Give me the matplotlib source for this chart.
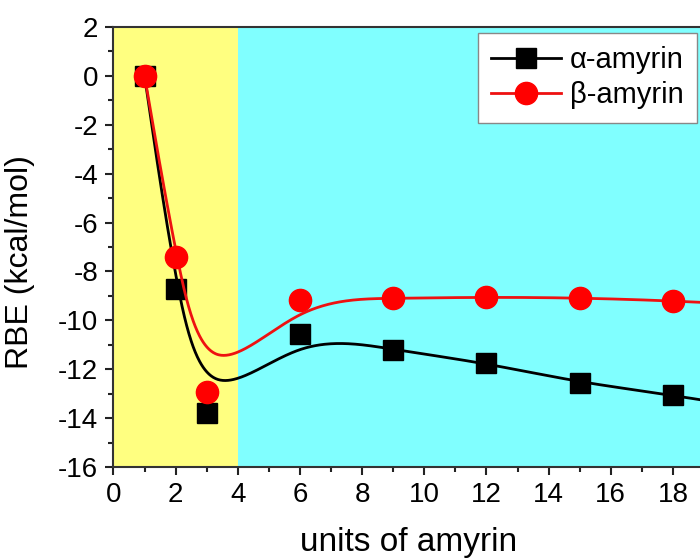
import numpy as np
import matplotlib.pyplot as plt
from matplotlib.lines import Line2D
from matplotlib.ticker import MultipleLocator

plt.rcParams['font.family'] = ['Liberation Sans', 'DejaVu Sans']
plt.rcParams['axes.unicode_minus'] = False

# data (last point lies outside the visible range,
# estimated from where the curves are heading at the right edge)
units = [1, 2, 3, 6, 9, 12, 15, 18, 21]
alpha_rbe = [0.0, -8.7, -13.8, -10.55, -11.2, -11.75, -12.55, -13.05, -13.7]
beta_rbe = [0.0, -7.4, -12.95, -9.15, -9.1, -9.05, -9.08, -9.2, -9.4]


def bspline(xs, ys, n=80):
    # uniform cubic B-spline using the points as control points,
    # end points repeated so the curve starts and ends on them
    px = np.r_[xs[0], xs[0], xs, xs[-1], xs[-1]].astype(float)
    py = np.r_[ys[0], ys[0], ys, ys[-1], ys[-1]].astype(float)
    t = np.linspace(0, 1, n)
    b0 = (1 - t) ** 3 / 6
    b1 = (3 * t**3 - 6 * t**2 + 4) / 6
    b2 = (-3 * t**3 + 3 * t**2 + 3 * t + 1) / 6
    b3 = t**3 / 6
    cx, cy = [], []
    for i in range(len(px) - 3):
        cx.append(b0 * px[i] + b1 * px[i + 1] + b2 * px[i + 2] + b3 * px[i + 3])
        cy.append(b0 * py[i] + b1 * py[i + 1] + b2 * py[i + 2] + b3 * py[i + 3])
    return np.concatenate(cx), np.concatenate(cy)


fig = plt.figure(figsize=(7, 5.6), dpi=100)
ax = fig.add_axes([0.1621, 0.1661, 0.8436, 0.7857])

ax.axvspan(0, 4, color='#ffff80', zorder=0, lw=0)
ax.axvspan(4, 22, color='#80ffff', zorder=0, lw=0)

ax_x, ax_y = bspline(units, alpha_rbe)
bx, by = bspline(units, beta_rbe)
ax.plot(ax_x, ax_y, color='black', lw=2, zorder=2)
ax.plot(units, alpha_rbe, 's', color='black', ms=14, zorder=3)
ax.plot(bx, by, color='#ee1111', lw=2, zorder=4)
ax.plot(units, beta_rbe, 'o', color='#ff0000', ms=16, zorder=5)

ax.set_xlim(0, 19)
ax.set_ylim(-16, 2)
ax.xaxis.set_major_locator(MultipleLocator(2))
ax.xaxis.set_minor_locator(MultipleLocator(1))
ax.yaxis.set_major_locator(MultipleLocator(2))
ax.yaxis.set_minor_locator(MultipleLocator(1))
ax.tick_params(which='both', direction='out', top=False, right=False,
               width=1.5, color='#222222')
ax.tick_params(which='major', length=6, labelsize=20, pad=5)
ax.tick_params(which='minor', length=3.5)
for s in ax.spines.values():
    s.set_linewidth(1.5)
    s.set_color('#333333')

ax.set_xlabel('units of amyrin', fontsize=24)
ax.set_ylabel('RBE (kcal/mol)', fontsize=23)
ax.xaxis.set_label_coords(0.5, -0.137)
ax.yaxis.set_label_coords(-0.133, 0.466)

handles = [
    Line2D([], [], color='black', lw=2, marker='s', ms=14),
    Line2D([], [], color='#ee1111', lw=2, marker='o', ms=16, mfc='#ff0000', mec='#ff0000'),
]
leg = ax.legend(handles, ['\u03b1-amyrin', '\u03b2-amyrin'], fontsize=21,
                loc='upper right', bbox_to_anchor=(697 / 700, 1 - 33 / 560),
                bbox_transform=fig.transFigure, borderaxespad=0,
                handlelength=2.4, handletextpad=0.3, labelspacing=0.25,
                borderpad=0.45, fancybox=False, framealpha=1)
leg.get_frame().set_edgecolor('#888888')
leg.get_frame().set_linewidth(1)

fig.savefig('out.png', dpi=100)
